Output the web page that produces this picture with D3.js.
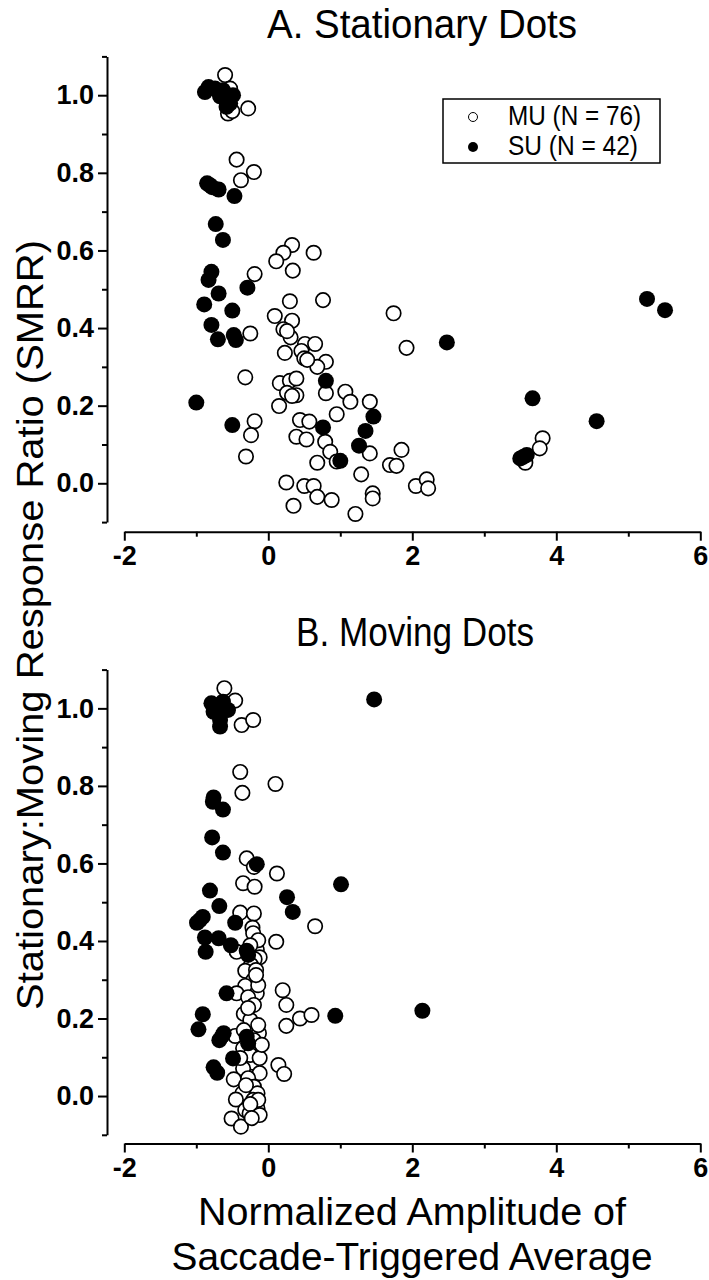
<!DOCTYPE html>
<html>
<head>
<meta charset="utf-8">
<script src="https://cdn.jsdelivr.net/npm/d3@7"></script>
<style>
  body { margin: 0; background: #fff; }
  text { font-family: "Liberation Sans", Arial, sans-serif; fill: #000; }
</style>
</head>
<body>
<div id="chart"></div>
<script>
// [normalized amplitude, SMRR]
const muA = [[-0.60,1.052],[-0.53,1.017],[-0.56,0.953],[-0.28,0.966],[-0.44,0.834],[-0.20,0.802],[-0.38,0.781],[0.33,0.614],[0.21,0.594],[0.11,0.572],
  [0.63,0.594],[0.34,0.548],[-0.19,0.539],[0.30,0.469],[0.76,0.472],[1.74,0.438],[0.09,0.431],[0.33,0.419],[-0.25,0.386],[0.21,0.397],
  [0.31,0.376],[0.51,0.359],[0.65,0.359],[0.23,0.336],[0.46,0.341],[0.50,0.322],[0.80,0.313],[0.68,0.300],[-0.32,0.273],[0.16,0.258],
  [0.30,0.264],[0.39,0.270],[0.26,0.233],[0.39,0.227],[0.80,0.232],[1.07,0.236],[1.14,0.210],[0.15,0.199],[0.95,0.178],[1.41,0.210],
  [-0.19,0.160],[-0.24,0.124],[0.44,0.163],[0.57,0.159],[0.39,0.120],[0.53,0.113],[0.79,0.107],[0.86,0.081],[0.95,0.056],[0.68,0.053],
  [1.41,0.077],[-0.31,0.069],[1.85,0.086],[1.69,0.047],[1.78,0.045],[1.29,0.023],[0.25,0.002],[0.50,-0.007],[0.63,-0.007],[0.68,-0.035],
  [0.88,-0.043],[0.35,-0.058],[1.45,-0.026],[1.45,-0.039],[1.21,-0.079],[1.92,0.349],[3.81,0.116],[3.77,0.090],[3.57,0.053],[2.05,-0.007],
  [2.20,0.010],[2.22,-0.013],[0.26,0.392],[0.33,0.225],[0.54,0.318],[-0.50,0.959]];

const suA = [[-0.83,1.021],[-0.88,1.008],[-0.74,1.017],[-0.63,1.013],[-0.49,1.000],[-0.58,0.970],[-0.53,0.979],[-0.81,0.768],[-0.69,0.757],[-0.47,0.740],
  [-0.73,0.668],[-0.63,0.627],[-0.79,0.545],[-0.83,0.524],[-0.29,0.504],[-0.69,0.489],[-0.89,0.461],[-0.50,0.445],[-0.79,0.408],[-0.70,0.371],
  [-0.48,0.382],[0.80,0.264],[-1.00,0.208],[1.46,0.172],[-0.50,0.150],[0.76,0.144],[1.35,0.135],[1.26,0.097],[1.00,0.058],[2.48,0.363],
  [5.26,0.475],[5.51,0.446],[3.67,0.219],[4.56,0.160],[3.50,0.064],[3.59,0.073],[-0.67,0.997],[-0.56,0.989],[-0.78,0.763],[-0.45,0.369],
  [3.54,0.068],[-0.85,0.773]];

const muB = [[-0.61,1.052],[-0.46,1.020],[-0.37,0.957],[-0.21,0.970],[-0.39,0.836],[0.10,0.805],[-0.36,0.782],[-0.30,0.613],[-0.20,0.591],[0.12,0.574],
  [-0.35,0.549],[-0.19,0.540],[-0.39,0.473],[-0.20,0.471],[0.65,0.438],[-0.22,0.434],[-0.21,0.420],[0.11,0.398],[-0.44,0.372],[-0.16,0.377],
  [-0.12,0.358],[-0.19,0.353],[-0.24,0.338],[-0.32,0.323],[-0.21,0.299],[-0.32,0.284],[-0.44,0.265],[-0.16,0.265],[-0.28,0.255],[0.20,0.273],
  [0.25,0.235],[-0.20,0.235],[-0.34,0.212],[0.44,0.200],[0.60,0.209],[0.25,0.181],[-0.46,0.155],[-0.13,0.162],[-0.35,0.123],[-0.16,0.119],
  [-0.22,0.086],[0.14,0.080],[0.22,0.057],[-0.35,0.071],[-0.12,0.059],[-0.48,0.043],[-0.28,0.046],[-0.20,0.024],[-0.15,0.007],[-0.36,0.007],
  [-0.45,-0.009],[-0.21,-0.010],[-0.15,-0.032],[-0.32,-0.036],[-0.26,-0.045],[-0.51,-0.058],[-0.38,-0.079],[-0.14,0.402],[-0.25,0.389],[-0.17,0.325],
  [-0.14,0.286],[-0.25,0.196],[-0.14,0.183],[-0.20,0.144],[-0.25,0.106],[-0.12,0.098],[-0.31,0.028],[-0.14,-0.010],[-0.25,-0.021],[-0.12,-0.049],
  [-0.23,-0.057],[-0.34,0.170],[-0.17,0.312],[-0.28,0.227],[-0.09,0.132],[-0.39,0.098]];

const suB = [[-0.79,1.013],[-0.63,1.017],[-0.56,0.996],[-0.76,0.991],[-0.67,0.970],[-0.67,0.953],[1.47,1.023],[-0.76,0.770],[-0.77,0.759],[-0.63,0.739],
  [-0.78,0.667],[-0.63,0.628],[-0.16,0.598],[1.01,0.546],[-0.81,0.530],[0.26,0.513],[-0.68,0.490],[0.34,0.475],[-0.99,0.447],[-0.91,0.462],
  [-0.46,0.447],[-0.88,0.409],[-0.69,0.407],[-0.52,0.389],[-0.30,0.375],[-0.87,0.372],[-0.58,0.265],[-0.91,0.211],[0.93,0.207],[-0.97,0.172],
  [-0.62,0.162],[-0.68,0.144],[-0.30,0.153],[-0.28,0.136],[-0.49,0.097],[-0.76,0.074],[-0.71,0.060],[2.14,0.220],[-0.28,0.364],[-0.95,0.454],
  [-0.64,0.155],[-0.70,1.008]];

const xTicks = [-2, 0, 2, 4, 6];
const xMinor = [-1, 1, 3, 5];
const yTicks = [0, 0.2, 0.4, 0.6, 0.8, 1.0];
const yMinor = [-0.1, 0.1, 0.3, 0.5, 0.7, 0.9, 1.1];
const legendLabels = ['MU (N = 76)', 'SU (N = 42)'];

const W = 709, H = 1280;
const svg = d3.select('#chart').append('svg')
  .attr('width', W)
  .attr('height', H);

const xScale = d3.scaleLinear().domain([-2, 6]).range([124.3, 700.3]);
const axisX = 107;

function drawPanel(p) {
  const yScale = d3.scaleLinear().domain([-0.1, 1.1]).range([p.bottom, p.top]);
  const g = svg.append('g');

  // title
  g.append('text')
    .attr('x', p.titleX).attr('y', p.titleY)
    .attr('text-anchor', 'middle')
    .style('font-size', '40px')
    .attr('textLength', p.titleLen)
    .attr('lengthAdjust', 'spacingAndGlyphs')
    .text(p.title);

  // x axis: major + minor ticks (plain hyphen for negatives, like the original)
  const xg = g.append('g').attr('transform', `translate(0,${p.xAxisY})`);
  xg.call(d3.axisBottom(xScale).tickValues(xTicks).tickSize(9).tickSizeOuter(0).tickPadding(5).tickFormat(d => String(d)));
  xg.append('g').call(d3.axisBottom(xScale).tickValues(xMinor).tickSize(5).tickFormat(''))
    .call(s => s.select('.domain').remove());

  // y axis
  const yg = g.append('g').attr('transform', `translate(${axisX},0)`);
  yg.call(d3.axisLeft(yScale).tickValues(yTicks).tickSize(9).tickSizeOuter(0).tickPadding(4).tickFormat(d => d.toFixed(1)));
  yg.append('g').call(d3.axisLeft(yScale).tickValues(yMinor).tickSize(5).tickFormat(''))
    .call(s => s.select('.domain').remove());

  g.selectAll('.domain').attr('stroke', '#000').attr('stroke-width', 2);
  g.selectAll('.tick line').attr('stroke', '#000').attr('stroke-width', 2);
  g.selectAll('.tick text')
    .attr('fill', '#000')
    .style('font-family', '"Liberation Sans", Arial, sans-serif')
    .style('font-size', '27px')
    .style('font-weight', 'bold');

  // points: MU open, SU filled
  g.append('g').selectAll('circle')
    .data(p.mu)
    .join('circle')
    .attr('cx', d => xScale(d[0]))
    .attr('cy', d => yScale(d[1]))
    .attr('r', 7.2)
    .attr('fill', '#fff')
    .attr('stroke', '#000')
    .attr('stroke-width', 1.7);

  g.append('g').selectAll('circle')
    .data(p.su)
    .join('circle')
    .attr('cx', d => xScale(d[0]))
    .attr('cy', d => yScale(d[1]))
    .attr('r', 8)
    .attr('fill', '#000');
}

drawPanel({ title: 'A. Stationary Dots', titleX: 422, titleY: 38, titleLen: 310,
  top: 56.4, bottom: 522.1, xAxisY: 531.7, mu: muA, su: suA });
drawPanel({ title: 'B. Moving Dots', titleX: 415, titleY: 646, titleLen: 238,
  top: 669.6, bottom: 1134.8, xAxisY: 1143.5, mu: muB, su: suB });

// legend (panel A)
const leg = svg.append('g');
leg.append('rect')
  .attr('x', 443).attr('y', 99).attr('width', 217).attr('height', 64)
  .attr('fill', '#fff').attr('stroke', '#000').attr('stroke-width', 1.5);
leg.append('circle').attr('cx', 473).attr('cy', 117).attr('r', 4.5)
  .attr('fill', '#fff').attr('stroke', '#000').attr('stroke-width', 1);
leg.append('circle').attr('cx', 473).attr('cy', 147).attr('r', 5)
  .attr('fill', '#000');
leg.selectAll('text.lab')
  .data(legendLabels)
  .join('text')
  .attr('class', 'lab')
  .attr('x', 508)
  .attr('y', (d, i) => 125 + i * 30)
  .attr('textLength', (d, i) => i === 0 ? 133 : 130)
  .attr('lengthAdjust', 'spacingAndGlyphs')
  .style('font-size', '28px')
  .text(d => d);

// shared axis titles
svg.append('text')
  .attr('transform', 'translate(43,625) rotate(-90)')
  .attr('text-anchor', 'middle')
  .attr('textLength', 770)
  .attr('lengthAdjust', 'spacingAndGlyphs')
  .style('font-size', '37px')
  .text('Stationary:Moving Response Ratio (SMRR)');

const xLab = svg.append('text')
  .attr('text-anchor', 'middle')
  .style('font-size', '38px');
xLab.append('tspan').attr('x', 412).attr('y', 1225)
  .attr('textLength', 428).attr('lengthAdjust', 'spacingAndGlyphs')
  .text('Normalized Amplitude of');
xLab.append('tspan').attr('x', 412).attr('y', 1270)
  .attr('textLength', 481).attr('lengthAdjust', 'spacingAndGlyphs')
  .text('Saccade-Triggered Average');
</script>
</body>
</html>
